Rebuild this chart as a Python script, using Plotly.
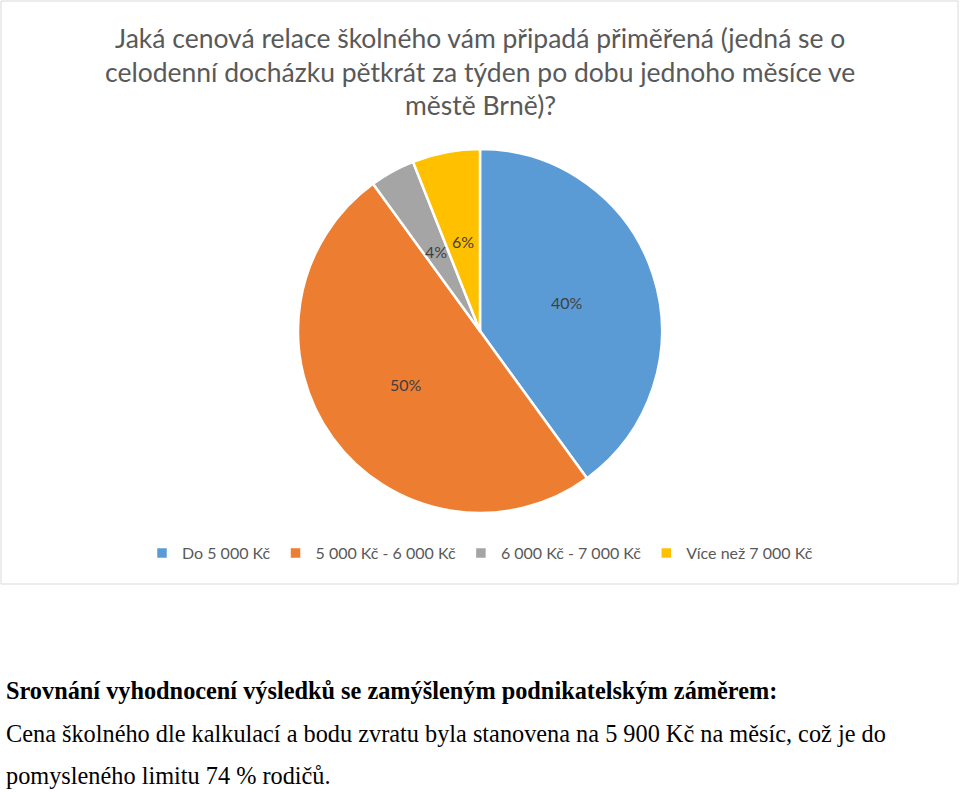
import math
import plotly.graph_objects as go

# ---- data ----
categories = ["Do 5 000 Kč", "5 000 Kč - 6 000 Kč", "6 000 Kč - 7 000 Kč", "Více než 7 000 Kč"]
values = [40, 50, 4, 6]
colors = ["#5B9BD5", "#ED7D31", "#A5A5A5", "#FFC000"]
title_lines = [
    "Jaká cenová relace školného vám připadá přiměřená (jedná se o",
    "celodenní docházku pětkrát za týden po dobu jednoho měsíce ve",
    "městě Brně)?",
]
body_bold = "Srovnání vyhodnocení výsledků se zamýšleným podnikatelským záměrem:"
body_lines = [
    "Cena školného dle kalkulací a bodu zvratu byla stanovena na 5 900 Kč na měsíc, což je do",
    "pomysleného limitu 74 % rodičů.",
]

W, H = 960, 792
cx, cy, r = 480, 331, 182

def px(x):
    return x / W

def py(y):
    return 1 - y / H

fig = go.Figure()
fig.add_trace(go.Pie(
    labels=categories,
    values=values,
    sort=False,
    direction="clockwise",
    rotation=0,
    marker=dict(colors=colors, line=dict(color="white", width=2.5)),
    textinfo="none",
    hoverinfo="label+percent",
    domain=dict(x=[px(cx - r), px(cx + r)], y=[py(cy + r), py(cy - r)]),
    showlegend=True,
))

annotations = []
# data labels at half radius along each slice's mid-angle
total = sum(values)
cum = 0
for v in values:
    mid = (cum + v / 2) / total * 2 * math.pi
    cum += v
    lx = cx + 0.5 * r * math.sin(mid)
    ly = cy - 0.5 * r * math.cos(mid)
    annotations.append(dict(
        x=px(lx), y=py(ly), xref="paper", yref="paper",
        text=f"{round(v / total * 100)}%", showarrow=False,
        font=dict(family="Lato, Calibri, sans-serif", size=16, color="#404040"),
        xanchor="center", yanchor="middle",
    ))

# title
for t, yy in zip(title_lines, [38, 72, 105]):
    annotations.append(dict(
        x=0.5, y=py(yy), xref="paper", yref="paper", text=t, showarrow=False,
        font=dict(family="Lato, Calibri, sans-serif", size=26.5, color="#595959"),
        xanchor="center", yanchor="middle",
    ))

# body text
annotations.append(dict(
    x=px(4), y=py(690), xref="paper", yref="paper", text=f"<b>{body_bold}</b>", showarrow=False,
    font=dict(family="Liberation Serif, Times New Roman, serif", size=24.3, color="black"),
    xanchor="left", yanchor="middle",
))
for t, yy in zip(body_lines, [733, 775]):
    annotations.append(dict(
        x=px(4), y=py(yy), xref="paper", yref="paper", text=t, showarrow=False,
        font=dict(family="Liberation Serif, Times New Roman, serif", size=24.3, color="black"),
        xanchor="left", yanchor="middle",
    ))

fig.update_layout(
    width=W, height=H,
    margin=dict(l=0, r=0, t=0, b=0),
    paper_bgcolor="white", plot_bgcolor="white",
    annotations=annotations,
    legend=dict(
        orientation="h", x=0.5, xanchor="center", y=py(553), yanchor="middle",
        font=dict(family="Lato, Calibri, sans-serif", size=16, color="#595959"),
        itemwidth=30, traceorder="normal",
    ),
    shapes=[dict(
        type="rect", xref="paper", yref="paper",
        x0=px(1), x1=px(958), y0=py(584), y1=py(1),
        line=dict(color="#D9D9D9", width=1), fillcolor="rgba(0,0,0,0)", layer="below",
    )],
)

fig.write_html(
    "out.html",
    config={"displayModeBar": False},
    post_script="document.body.style.margin='0';document.body.style.overflow='hidden';",
)
